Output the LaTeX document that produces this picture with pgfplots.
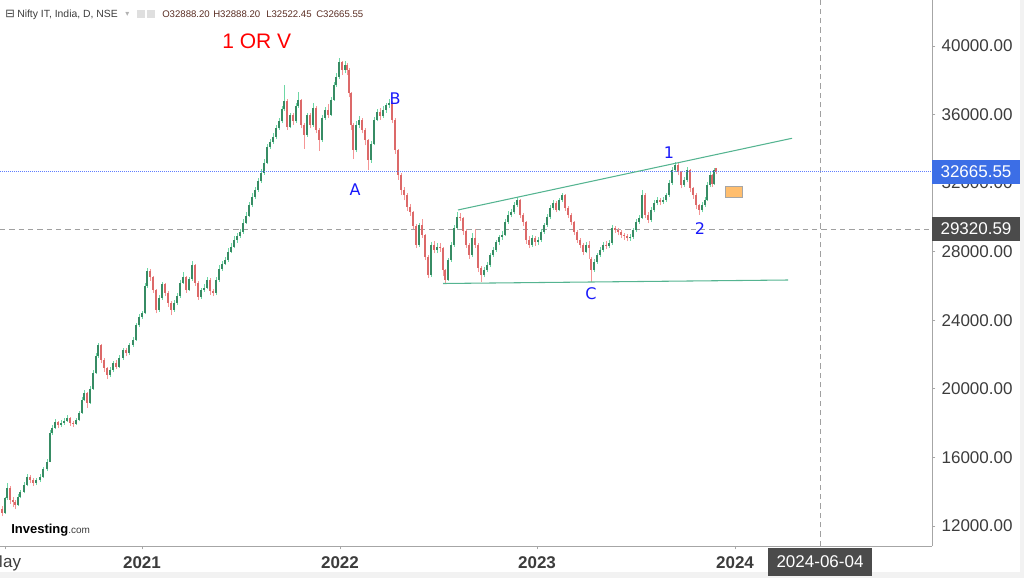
\documentclass[border=0pt]{standalone}
\usepackage{fontspec}
\setmainfont{Liberation Sans}
\newfontfamily\djv{DejaVu Sans}
\usepackage{pgfplots}
\usepackage{pgfplotstable}
\pgfplotsset{compat=1.18}
\definecolor{upwick}{RGB}{110,215,165}
\definecolor{upbody}{RGB}{55,140,100}
\definecolor{dnwick}{RGB}{245,150,150}
\definecolor{dnbody}{RGB}{220,105,105}
\definecolor{trend}{RGB}{85,180,145}
\definecolor{lblgray}{RGB}{60,60,60}
\definecolor{pxblue}{RGB}{60,110,230}
\definecolor{boxgray}{RGB}{75,75,75}
\definecolor{cursorgray}{RGB}{160,160,160}
\definecolor{annblue}{RGB}{25,25,250}
\definecolor{ohlc}{RGB}{90,45,35}
\definecolor{priceline}{RGB}{95,125,255}

\pgfplotstableread{
x o h l c
2 13000 13150 12550 12750
5 12750 13700 12700 13600
7 13600 14500 13500 14220
10 14220 14300 13300 13500
13 13500 13700 13100 13400
15 13400 13500 13000 13220
18 13220 13850 13150 13700
20 13700 14100 13600 13980
24 13980 14550 13900 14400
27 14400 15000 14300 14850
30 14850 14950 14500 14700
33 14700 14800 14350 14500
36 14500 14800 14400 14650
40 14650 15000 14550 14850
43 14850 15450 14800 15300
47 15300 15900 15200 15730
50 15730 17600 15700 17420
52 17420 17900 17300 17700
55 17700 18250 17650 18060
58 18060 18150 17700 17900
61 17900 18200 17800 18000
64 18000 18300 17900 18150
67 18150 18450 18050 18300
70 18300 18350 17850 18000
73 18000 18150 17800 17950
76 17950 18300 17900 18180
79 18180 18700 18100 18590
82 18590 19500 18550 19350
84 19350 19950 19300 19750
87 19750 19800 18900 19170
90 19170 20150 19100 20000
93 20000 21100 19950 20900
96 20900 22100 20850 21900
98 21900 22700 21800 22550
101 22550 22600 21500 21700
104 21700 21800 21000 21200
107 21200 21300 20600 20800
110 20800 21300 20700 21100
113 21100 21650 21000 21500
116 21500 21700 21150 21300
119 21300 21950 21200 21800
123 21800 22400 21700 22260
126 22260 22400 21900 22100
129 22100 22700 22000 22550
133 22550 23000 22450 22850
136 22850 23850 22800 23700
139 23700 24350 23600 24200
142 24200 24550 24100 24400
145 24400 26200 24350 26000
147 26000 27050 25900 26900
150 26900 27000 26300 26500
153 26500 26600 25600 25760
156 25760 25800 24400 24600
159 24600 25500 24500 25300
162 25300 26250 25200 26100
165 26100 26200 25400 25600
168 25600 25700 24800 25000
171 25000 25100 24300 24600
174 24600 25200 24500 25000
177 25000 25600 24900 25400
180 25400 26350 25300 26200
183 26200 26800 26100 26500
186 26500 26600 25600 25760
189 25760 26550 25700 26400
192 26400 27450 26300 27200
195 27200 27300 26000 26200
198 26200 26300 25200 25350
201 25350 25900 25250 25760
204 25760 26100 25650 25900
207 25900 26500 25800 26350
210 26350 26450 25500 25700
213 25700 25850 25400 25600
216 25600 26500 25500 26350
219 26350 27200 26250 27000
222 27000 27450 26900 27300
225 27300 27700 27200 27500
228 27500 28200 27400 28000
231 28000 28500 27900 28300
234 28300 28900 28200 28700
237 28700 29100 28500 28900
240 28900 29350 28800 29150
243 29150 29900 29050 29700
246 29700 30300 29600 30100
249 30100 30900 30000 30700
252 30700 31400 30600 31200
255 31200 31800 31100 31600
258 31600 32300 31500 32100
261 32100 32800 32000 32600
264 32600 33400 32500 33200
267 33200 34300 33100 34100
270 34100 34600 34000 34400
273 34400 34900 34300 34700
276 34700 35400 34600 35200
279 35200 35800 35100 35600
282 35600 36500 35500 36300
284 36300 37700 36200 36800
287 36800 36900 35100 35270
290 35270 36100 35200 35970
293 35970 36100 35400 35600
296 35600 36700 35500 36500
298 36500 37300 36400 36850
301 36850 36900 35200 35400
304 35400 35500 34000 34800
307 34800 36100 34700 35970
310 35970 36100 35200 35400
313 35400 36700 35300 36400
316 36400 36500 34900 35100
319 35100 35200 33900 34500
322 34500 35950 34400 35800
325 35800 36450 35700 36270
328 36270 36600 35800 36000
331 36000 37000 35900 36850
334 36850 37900 36800 37700
336 37700 38400 37600 38200
339 38200 39300 38100 39070
342 39070 39150 38300 38600
345 38600 39100 38400 38900
347 38900 39000 38300 38600
349 38600 38700 37000 37250
351 37250 37300 35100 35400
353 35400 35500 33400 33930
356 33930 35600 33800 35400
359 35400 35900 35200 35700
362 35700 35800 34900 35100
365 35100 35200 34200 34500
368 34500 34600 32750 33350
371 33350 34450 33200 34300
374 34300 35850 34200 35700
377 35700 36300 35600 36150
380 36150 36400 35700 35900
383 35900 36500 35800 36270
386 36270 36700 36100 36560
389 36560 36900 36400 36700
392 36700 36800 35500 35700
395 35700 35800 33700 33930
398 33930 34000 32200 32470
401 32470 32600 31300 31600
404 31600 31800 31000 31300
407 31300 31400 30400 30600
410 30600 30800 30100 30300
413 30300 30400 29300 29500
416 29500 29600 28200 28400
419 28400 29700 28300 29560
422 29560 29900 28800 28970
425 28970 29050 27500 27700
428 27700 27800 26450 26640
431 26640 28550 26550 28400
434 28400 28600 27900 28100
437 28100 28500 27900 28300
440 28300 28500 28000 28220
443 28220 28300 26600 26930
445 26930 27000 26150 26350
448 26350 27650 26300 27510
451 27510 28550 27400 28400
454 28400 29550 28300 29380
457 29380 30300 29300 30000
460 30000 30250 29800 29970
463 29970 30050 29000 29200
466 29200 29300 28200 28400
469 28400 28500 27600 27800
472 27800 29100 27700 28800
475 28800 29300 28200 28400
478 28400 28500 26800 27050
481 27050 27150 26250 26640
484 26640 27100 26500 26930
487 26930 27400 26800 27220
490 27220 27950 27100 27800
493 27800 28300 27700 28100
496 28100 28700 28000 28560
499 28560 29000 28400 28860
502 28860 29200 28700 28970
505 28970 29900 28900 29730
508 29730 30350 29600 30140
511 30140 30500 30000 30300
514 30300 30900 30200 30720
517 30720 31200 30600 31020
520 31020 31100 29950 30140
523 30140 30250 29500 29730
526 29730 29800 28450 28680
529 28680 28900 28200 28400
532 28400 29000 28300 28800
535 28800 28900 28350 28560
538 28560 28850 28400 28680
541 28680 29300 28550 29150
544 29150 29700 29050 29560
547 29560 30200 29450 30030
550 30030 30700 29900 30550
553 30550 31000 30450 30840
556 30840 30950 30300 30430
559 30430 31150 30350 31020
562 31020 31450 30900 31300
565 31300 31350 30400 30550
568 30550 30650 29950 30140
571 30140 30250 29550 29730
574 29730 29800 29000 29150
577 29150 29250 28500 28680
580 28680 28800 28200 28400
583 28400 28500 27800 27980
586 27980 28550 27900 28400
589 28400 28600 27600 28200
591 27600 27700 26250 26930
594 26930 27550 26800 27400
597 27400 27950 27300 27800
600 27800 28250 27700 28100
603 28100 28550 28000 28400
606 28400 28600 28150 28330
609 28330 28700 28200 28500
612 28500 29550 28400 29380
615 29380 29500 29100 29260
618 29260 29400 28950 29150
621 29150 29250 28800 28970
624 28970 29100 28700 28910
627 28910 29050 28600 28800
630 28800 29050 28650 28860
633 28860 29400 28750 29260
636 29260 29900 29150 29730
639 29730 30150 29600 29970
642 29970 31600 29900 31310
645 31310 31400 29950 30140
648 30140 30300 29650 29850
651 29850 30600 29750 30430
654 30430 31000 30300 30840
657 30840 31200 30700 31020
660 31020 31150 30700 30900
663 30900 31200 30800 31020
666 31020 31450 30900 31310
669 31310 32200 31200 32000
672 32000 32950 31900 32770
675 32770 33250 32650 33060
678 33060 33150 32450 32650
681 32650 32700 31700 31890
684 31890 32350 31800 32180
687 32180 32950 32050 32770
690 32770 32850 31500 31710
693 31710 31800 31100 31310
696 31310 31400 30500 30720
699 30720 30800 30150 30430
702 30430 30900 30300 30720
705 30720 31200 30600 31020
707 31020 32050 30950 31890
710 31890 32650 31800 32470
712 32470 32550 31800 31950
714 31950 32900 31900 32750
716 32888.2 32888.2 32522.45 32665.55
}\candles

\begin{document}
\begin{tikzpicture}
\begin{axis}[
  at={(0,0)}, anchor=south west,
  scale only axis, width=699pt, height=409.5pt,
  xmin=0, xmax=932, ymin=10828, ymax=42684,
  clip=false,
  axis x line*=bottom, axis y line*=right,
  axis line style={-, draw=gray!70, line width=0.6pt},
  xtick={5,142,340,537,735},
  xticklabels={May,\textbf{2021},\textbf{2022},\textbf{2023},\textbf{2024}},
  ytick={12000,16000,20000,24000,28000,32000,36000,40000},
  yticklabels={12000.00,16000.00,20000.00,24000.00,28000.00,32000.00,36000.00,40000.00},
  tick align=outside, major tick length=2.5pt,
  tick style={draw=gray!70, line width=0.5pt},
  ticklabel style={font=\fontsize{12.75}{14}\selectfont, text=lblgray},
  yticklabel style={anchor=west, inner sep=0pt, xshift=4.5pt},
  xticklabel style={anchor=north, inner sep=0pt, yshift=-5pt},
]
% reference lines
\addplot[cursorgray, line width=0.6pt, dash pattern=on 4pt off 3pt] coordinates {(0,29320.59) (932,29320.59)};
\addplot[cursorgray, line width=0.6pt, dash pattern=on 4pt off 3pt] coordinates {(820,10828) (820,42684)};
% candles: wicks
\addplot[upwick, line width=0.45pt, quiver={u=0, v=\thisrow{h}-\thisrow{l}}]
  table[x=x, y expr={\thisrow{c}>=\thisrow{o} ? \thisrow{l} : nan}] {\candles};
\addplot[dnwick, line width=0.45pt, quiver={u=0, v=\thisrow{h}-\thisrow{l}}]
  table[x=x, y expr={\thisrow{c}<\thisrow{o} ? \thisrow{l} : nan}] {\candles};
% candles: bodies
\addplot[upbody, line width=1.1pt, quiver={u=0, v=\thisrow{c}-\thisrow{o}}]
  table[x=x, y expr={\thisrow{c}>=\thisrow{o} ? \thisrow{o} : nan}] {\candles};
\addplot[dnbody, line width=1.1pt, quiver={u=0, v=\thisrow{c}-\thisrow{o}}]
  table[x=x, y expr={\thisrow{c}<\thisrow{o} ? \thisrow{o} : nan}] {\candles};
% last price line
\addplot[priceline, line width=0.55pt, dash pattern=on 0.75pt off 0.75pt] coordinates {(0,32665.55) (932,32665.55)};
% trend lines
\addplot[trend, line width=0.8pt] coordinates {(458,30433) (792,34616)};
\addplot[trend, line width=0.8pt] coordinates {(443,26143) (788,26347)};
% orange box
\addplot[draw=gray!70, fill={rgb,255:red,255;green,190;blue,110}, line width=0.6pt] coordinates {(725,31192) (742,31192) (742,31833) (725,31833)} -- cycle;
\end{axis}

\begin{scope}[x=0.75pt, y=-0.75pt, shift={(0pt,409.5pt)}]
  % background strips
  \fill[gray!10] (0,572) rectangle (1024,578);
  \fill[gray!10] (1020,0) rectangle (1024,578);
  % price boxes
  \node[fill=pxblue, text=white, anchor=west, inner sep=0pt, outer sep=0pt,
        minimum width=66pt, minimum height=18pt, font=\fontsize{12.75}{14}\selectfont] at (932,172) {32665.55};
  \node[fill=boxgray, text=white, anchor=west, inner sep=0pt, outer sep=0pt,
        minimum width=66pt, minimum height=18pt, font=\fontsize{12.75}{14}\selectfont] at (932,229) {29320.59};
  % date box
  \node[fill=boxgray, text=white, anchor=north, inner sep=0pt, outer sep=0pt,
        minimum width=78pt, minimum height=21pt, font=\fontsize{12.75}{14}\selectfont] at (820,548) {2024-06-04};
  % header
  \node[anchor=base west, inner sep=0pt, text=lblgray, font=\djv\fontsize{8.5}{9}\selectfont] at (5,18) {⊟};
  \node[anchor=base west, inner sep=0pt, text=lblgray, font=\fontsize{7.8}{9}\selectfont] at (17,18) {Nifty IT, India, D, NSE};
  \node[anchor=base west, inner sep=0pt, text=gray!60, font=\djv\fontsize{6}{7}\selectfont] at (125,17) {▾};
  \fill[gray!25] (137,10) rectangle (145,18);
  \fill[gray!25] (147,10) rectangle (155,18);
  \node[anchor=base west, inner sep=0pt, text=ohlc, font=\fontsize{7.2}{9}\selectfont] at (162,18) {O32888.20};
  \node[anchor=base west, inner sep=0pt, text=ohlc, font=\fontsize{7.2}{9}\selectfont] at (213,18) {H32888.20};
  \node[anchor=base west, inner sep=0pt, text=ohlc, font=\fontsize{7.2}{9}\selectfont] at (266,18) {L32522.45};
  \node[anchor=base west, inner sep=0pt, text=ohlc, font=\fontsize{7.2}{9}\selectfont] at (316,18) {C32665.55};
  % title annotation
  \node[anchor=base west, inner sep=0pt, text=red, font=\fontsize{15.75}{18}\selectfont] at (222,48.3) {1 OR V};
  % wave labels
  \node[inner sep=0pt, text=annblue, font=\djv\fontsize{12}{14}\selectfont] at (395,99) {B};
  \node[inner sep=0pt, text=annblue, font=\djv\fontsize{12}{14}\selectfont] at (355,190) {A};
  \node[inner sep=0pt, text=annblue, font=\djv\fontsize{12}{14}\selectfont] at (669,153) {1};
  \node[inner sep=0pt, text=annblue, font=\djv\fontsize{12}{14}\selectfont] at (700,229) {2};
  \node[inner sep=0pt, text=annblue, font=\djv\fontsize{12}{14}\selectfont] at (591,294) {C};
  % logo
  \node[anchor=base west, inner sep=0pt, font=\bfseries\fontsize{9.75}{11}\selectfont] at (11,533.3) {Investing\textcolor{lblgray}{\mdseries\fontsize{7.5}{8}\selectfont .com}};
\end{scope}

\pgfresetboundingbox
\path[use as bounding box] (0,-24pt) rectangle (768pt,409.5pt);
\end{tikzpicture}
\end{document}
